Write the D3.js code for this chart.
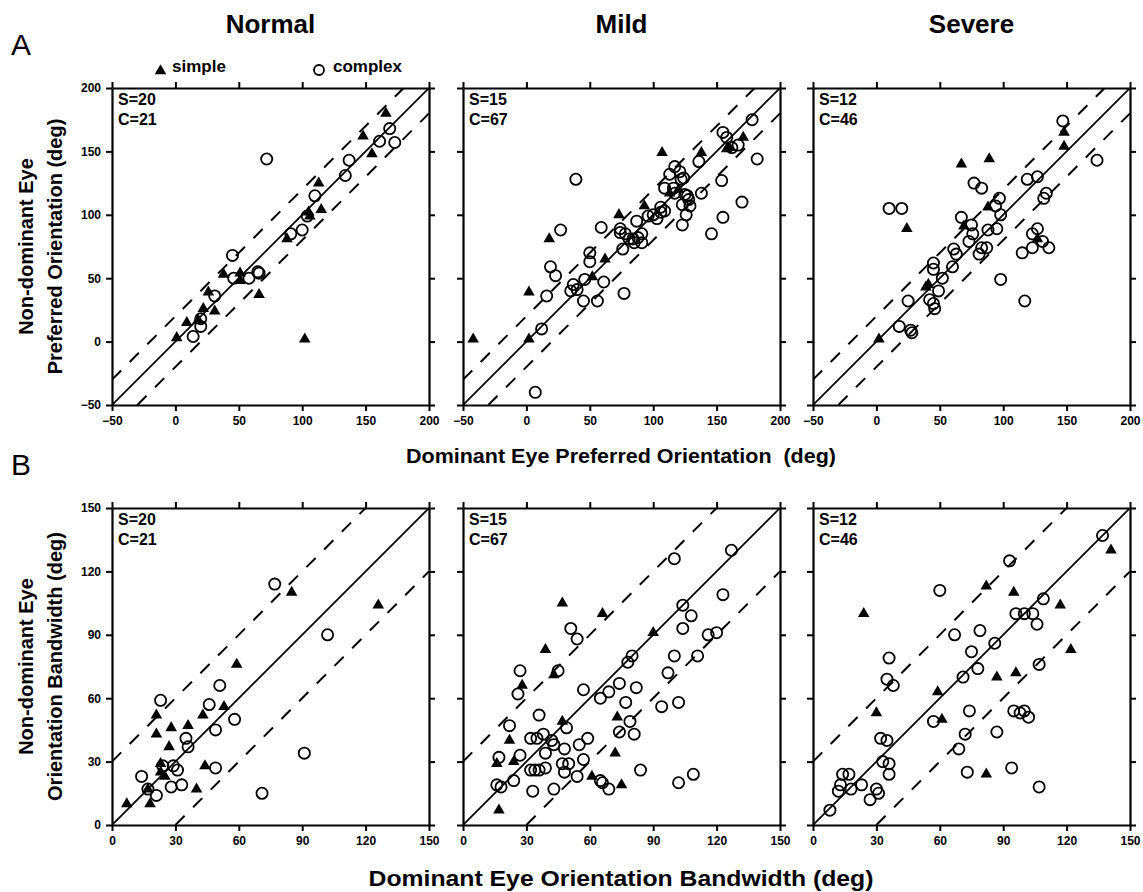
<!DOCTYPE html>
<html><head><meta charset="utf-8">
<script src="https://cdn.jsdelivr.net/npm/d3@7"></script>
<style>
body{margin:0;background:#fff;}
svg text{font-family:"Liberation Sans",Arial,Helvetica,sans-serif;fill:#000;}
</style></head><body>
<svg id="chart" width="1143" height="892"></svg>
<script>
// ---------------- DATA ----------------
const groups = ["Normal", "Mild", "Severe"];
const countsS = [20, 15, 12];
const countsC = [21, 67, 46];
const oriTicks = [-50, 0, 50, 100, 150, 200];
const bwTicks = [0, 30, 60, 90, 120, 150];
const oriBandOffset = 20;
const bwBandOffset = 30;

// Panel A: preferred orientation (dominant x, non-dominant y)
const normalOriSimple = [[1,3],[9,15],[18,17],[22,26],[26,39],[31,24],[38,53],[51,54],[51,48],[66,37],[88,81],[105,102],[106,99],[113,125],[115,104],[102,2],[148,162],[155,148],[166,180]];
const normalOriComplex = [[14,4],[20,12],[20,18],[31,36],[45,68],[46,50],[58,50],[65,55],[66,54],[72,144],[91,85],[100,88],[104,99],[110,115],[134,131],[137,143],[161,158],[169,168],[173,157]];
const mildOriSimple = [[-42,2],[2,2],[2,39],[18,81],[62,65],[52,51],[73,100],[93,107],[107,149],[113,117],[120,120],[138,149],[160,153],[158,152],[171,161]];
const mildOriComplex = [[7,-40],[12,10],[16,36],[19,59],[23,52],[27,88],[37,45],[39,128],[40,41],[45,32],[46,49],[50,70],[50,63],[56,32],[61,47],[59,90],[74,89],[76,73],[77,38],[78,85],[81,81],[84,81],[87,95],[88,82],[91,85],[91,78],[96,99],[100,100],[103,97],[106,106],[109,103],[109,121],[113,132],[116,121],[117,138],[121,134],[122,128],[124,129],[123,108],[125,116],[126,100],[123,92],[128,112],[129,107],[138,117],[136,142],[146,85],[154,127],[155,98],[155,165],[158,161],[162,153],[167,155],[170,110],[178,175],[182,144],[35,40],[106,102],[117,117],[127,115],[85,78],[74,86]];
const severeOriSimple = [[2,2],[24,89],[39,43],[41,45],[67,140],[69,91],[89,144],[88,106],[127,81],[148,165],[148,154]];
const severeOriComplex = [[10,105],[20,105],[18,12],[25,32],[27,9],[28,7],[45,62],[45,57],[42,33],[45,30],[46,26],[49,40],[52,50],[60,59],[61,73],[63,69],[67,98],[73,79],[75,92],[76,85],[77,125],[83,121],[81,69],[83,74],[87,74],[88,88],[94,107],[95,89],[97,113],[98,100],[98,49],[115,70],[117,32],[119,128],[123,74],[123,85],[127,130],[127,89],[131,79],[132,113],[134,117],[136,74],[147,174],[174,143]];

// Panel B: orientation bandwidth (dominant x, non-dominant y)
const normalBwSimple = [[7,10],[18,10],[17,17],[21,52],[21,43],[23,29],[25,23],[27,37],[28,46],[36,47],[40,17],[43,52],[44,28],[53,56],[59,76],[85,110],[126,104],[23,25]];
const normalBwComplex = [[14,23],[17,17],[21,14],[23,59],[24,28],[28,18],[29,28],[31,26],[33,19],[35,41],[36,37],[46,57],[49,45],[49,27],[51,66],[58,50],[71,15],[77,114],[91,34],[102,90]];
const mildBwSimple = [[17,7],[16,29],[22,40],[24,30],[28,66],[39,83],[43,71],[47,105],[47,49],[61,23],[66,100],[72,34],[73,51],[75,19],[90,91]];
const mildBwComplex = [[16,19],[17,32],[18,18],[22,47],[24,21],[26,62],[27,73],[27,33],[32,41],[32,26],[33,16],[34,26],[35,41],[36,52],[36,26],[38,43],[39,27],[39,34],[42,40],[43,38],[43,17],[45,73],[47,29],[48,36],[48,25],[49,46],[50,29],[51,93],[54,88],[54,23],[55,38],[57,31],[57,64],[59,41],[65,60],[65,21],[66,20],[69,17],[69,63],[74,67],[74,44],[77,58],[78,77],[79,49],[80,80],[81,43],[82,65],[84,26],[94,56],[97,72],[100,80],[100,126],[102,58],[102,20],[104,104],[104,93],[108,99],[109,24],[111,80],[116,90],[120,91],[123,109],[127,130]];
const severeBwSimple = [[24,100],[30,53],[59,63],[61,50],[82,113],[82,24],[87,70],[95,110],[96,72],[117,104],[122,83],[141,130]];
const severeBwComplex = [[8,7],[12,16],[13,19],[14,24],[17,24],[18,17],[23,19],[27,12],[30,17],[31,15],[32,41],[35,40],[33,30],[36,29],[36,24],[35,69],[36,79],[38,66],[57,49],[60,111],[67,90],[69,36],[71,70],[72,43],[73,25],[74,54],[75,82],[78,74],[79,92],[86,86],[87,44],[93,125],[94,27],[95,54],[96,100],[98,53],[100,54],[100,100],[102,51],[104,100],[106,95],[107,76],[107,18],[109,107],[137,137]];

// ---------------- LAYOUT ----------------
const colLeft = [112, 463, 813];
const rowTop = [88, 508];
const pw = 317, ph = 317;
const svg = d3.select("#chart");
const FONT = '"Liberation Sans",Arial,Helvetica,sans-serif';

const rows = [
  { domain: [-50, 200], ticks: oriTicks, off: oriBandOffset,
    sets: [[normalOriSimple, normalOriComplex],[mildOriSimple, mildOriComplex],[severeOriSimple, severeOriComplex]] },
  { domain: [0, 150], ticks: bwTicks, off: bwBandOffset,
    sets: [[normalBwSimple, normalBwComplex],[mildBwSimple, mildBwComplex],[severeBwSimple, severeBwComplex]] }
];

const triSym = d3.symbol().type(d3.symbolTriangle).size(58);

rows.forEach((row, ri) => {
  groups.forEach((grp, ci) => {
    const L = colLeft[ci], T = rowTop[ri];
    const x = d3.scaleLinear().domain(row.domain).range([L, L + pw]);
    const y = d3.scaleLinear().domain(row.domain).range([T + ph, T]);
    const g = svg.append("g");
    const clipId = `clip${ri}${ci}`;
    svg.append("clipPath").attr("id", clipId).append("rect")
      .attr("x", L).attr("y", T).attr("width", pw).attr("height", ph);

    const lines = g.append("g").attr("clip-path", `url(#${clipId})`);
    const d0 = row.domain[0], d1 = row.domain[1];
    lines.append("line").attr("x1", x(d0)).attr("y1", y(d0)).attr("x2", x(d1)).attr("y2", y(d1))
      .attr("stroke", "#000").attr("stroke-width", 1.8);
    [row.off, -row.off].forEach(o => {
      const xa = Math.max(d0, d0 - o), xb = Math.min(d1, d1 - o);
      lines.append("line").attr("x1", x(xa)).attr("y1", y(xa + o)).attr("x2", x(xb)).attr("y2", y(xb + o))
        .attr("stroke", "#000").attr("stroke-width", 2).attr("stroke-dasharray", "13,12");
    });

    const [simple, complex] = row.sets[ci];
    g.append("g").selectAll("path").data(simple).join("path")
      .attr("d", triSym).attr("transform", d => `translate(${x(d[0])},${y(d[1])})`)
      .attr("fill", "#000");
    g.append("g").selectAll("circle").data(complex).join("circle")
      .attr("cx", d => x(d[0])).attr("cy", d => y(d[1])).attr("r", 5.6)
      .attr("fill", "none").attr("stroke", "#000").attr("stroke-width", 1.8);

    const styleAxis = sel => {
      sel.selectAll(".domain").attr("stroke", "#000").attr("stroke-width", 2.2);
      sel.selectAll(".tick line").attr("stroke", "#000").attr("stroke-width", 2);
      sel.selectAll(".tick text").attr("font-family", FONT).attr("font-weight", "bold").attr("font-size", 12).attr("fill", "#000");
    };
    g.append("g").attr("transform", `translate(0,${T + ph})`)
      .call(d3.axisBottom(x).tickValues(row.ticks).tickSize(6).tickSizeOuter(0).tickPadding(5))
      .call(styleAxis);
    g.append("g").attr("transform", `translate(0,${T})`)
      .call(d3.axisTop(x).tickValues(row.ticks).tickSize(6).tickSizeOuter(0).tickFormat(""))
      .call(styleAxis);
    g.append("g").attr("transform", `translate(${L},0)`)
      .call(d3.axisLeft(y).tickValues(row.ticks).tickSize(6).tickSizeOuter(0).tickPadding(5)
        .tickFormat(ci === 0 ? d3.format("d") : ""))
      .call(styleAxis);
    g.append("g").attr("transform", `translate(${L + pw},0)`)
      .call(d3.axisRight(y).tickValues(row.ticks).tickSize(6).tickSizeOuter(0).tickFormat(""))
      .call(styleAxis);

    g.append("text").attr("x", L + 6).attr("y", T + 17)
      .attr("font-weight", "bold").attr("font-size", 16).text(`S=${countsS[ci]}`);
    g.append("text").attr("x", L + 6).attr("y", T + 37)
      .attr("font-weight", "bold").attr("font-size", 16).text(`C=${countsC[ci]}`);
  });
});

// column titles
groups.forEach((grp, ci) => {
  svg.append("text").attr("x", colLeft[ci] + pw / 2).attr("y", 33)
    .attr("text-anchor", "middle").attr("font-weight", "bold").attr("font-size", 26).text(grp);
});

// panel letters
svg.append("text").attr("x", 11).attr("y", 55).attr("font-size", 30).text("A");
svg.append("text").attr("x", 11).attr("y", 475).attr("font-size", 30).text("B");

// legend
svg.append("path").attr("d", triSym).attr("transform", "translate(160.5,71)").attr("fill", "#000");
svg.append("text").attr("x", 172).attr("y", 72).attr("font-weight", "bold").attr("font-size", 17).text("simple");
svg.append("circle").attr("cx", 319).attr("cy", 70).attr("r", 5).attr("fill", "none").attr("stroke", "#000").attr("stroke-width", 1.8);
svg.append("text").attr("x", 333).attr("y", 72).attr("font-weight", "bold").attr("font-size", 17).text("complex");

// axis titles
const xCenter = (colLeft[0] + colLeft[2] + pw) / 2;
svg.append("text").attr("x", xCenter).attr("y", 463).attr("text-anchor", "middle")
  .attr("font-weight", "bold").attr("font-size", 21).style("white-space", "pre")
  .attr("textLength", 430).attr("lengthAdjust", "spacingAndGlyphs")
  .text("Dominant Eye Preferred Orientation  (deg)");
svg.append("text").attr("x", xCenter).attr("y", 886).attr("text-anchor", "middle")
  .attr("font-weight", "bold").attr("font-size", 22)
  .attr("textLength", 505).attr("lengthAdjust", "spacingAndGlyphs")
  .text("Dominant Eye Orientation Bandwidth (deg)");

const yTitles = [["Non-dominant Eye", "Preferred Orientation (deg)"], ["Non-dominant Eye", "Orientation Bandwidth (deg)"]];
yTitles.forEach((lines, ri) => {
  const cy = rowTop[ri] + ph / 2;
  [33, 62].forEach((bx, li) => {
    svg.append("text").attr("transform", `translate(${bx},${cy}) rotate(-90)`)
      .attr("text-anchor", "middle").attr("font-weight", "bold").attr("font-size", 20)
      .text(lines[li]);
  });
});
</script>
</body></html>
